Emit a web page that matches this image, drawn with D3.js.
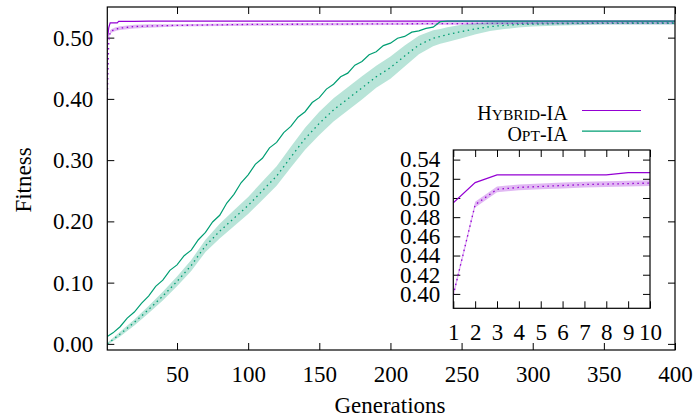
<!DOCTYPE html>
<html>
<head>
<meta charset="utf-8">
<script src="https://cdn.jsdelivr.net/npm/d3@7"></script>
<style>
  body { margin: 0; background: #fff; }
</style>
</head>
<body>
<svg class="displayContext" width="694" height="419"></svg>
<script>
// Hybrid-IA: generation, best fitness, mean fitness, spread of the mean
var hybridGen    = [1, 2, 3, 4, 5, 6, 7, 8, 9, 10, 20, 30, 50, 100, 150, 200, 250, 300, 350, 400];
var hybridBest   = [0.495, 0.516, 0.524, 0.524, 0.524, 0.524, 0.524, 0.524, 0.5265, 0.5265,
                    0.5265, 0.527, 0.527, 0.527, 0.527, 0.527, 0.527, 0.527, 0.527, 0.527];
var hybridMean   = [0.399, 0.493, 0.509, 0.511, 0.512, 0.513, 0.514, 0.5145, 0.515, 0.5155,
                    0.518, 0.519, 0.520, 0.5215, 0.522, 0.5225, 0.523, 0.5235, 0.524, 0.524];
var hybridSpread = [0.003, 0.003, 0.003, 0.003, 0.003, 0.003, 0.003, 0.003, 0.003, 0.003,
                    0.003, 0.003, 0.002, 0.002, 0.002, 0.002, 0.002, 0.002, 0.002, 0.002];

// Opt-IA best fitness (read every 5 generations, it climbs in small steps)
var optBestGen = [1, 5, 10, 15, 20, 25, 30, 35, 40, 45, 50, 55, 60, 65, 70, 75, 80, 85, 90, 95,
                  100, 105, 110, 115, 120, 125, 130, 135, 140, 145, 150, 155, 160, 165, 170, 175,
                  180, 185, 190, 195, 200, 205, 210, 215, 220, 225, 230, 235, 240, 300, 400];
var optBest    = [0.012, 0.018, 0.028, 0.042, 0.052, 0.066, 0.078, 0.094, 0.104, 0.120,
                  0.129, 0.144, 0.153, 0.170, 0.182, 0.199, 0.210, 0.230, 0.244, 0.263,
                  0.276, 0.293, 0.303, 0.320, 0.329, 0.345, 0.355, 0.370, 0.379, 0.394,
                  0.402, 0.416, 0.424, 0.436, 0.442, 0.455, 0.461, 0.472, 0.477, 0.487,
                  0.491, 0.499, 0.502, 0.509, 0.511, 0.515, 0.517, 0.526, 0.527, 0.527, 0.527];

// Opt-IA mean fitness and its spread
var optGen    = [1, 10, 20, 30, 40, 50, 60, 70, 80, 90, 100, 110, 120, 130, 140, 150, 160, 170, 180, 190,
                 200, 210, 220, 230, 235, 240, 250, 260, 270, 280, 290, 300, 320, 350, 400];
var optMean   = [0.000, 0.016, 0.035, 0.056, 0.078, 0.102, 0.128, 0.160, 0.184, 0.205,
                 0.226, 0.250, 0.274, 0.305, 0.335, 0.360, 0.382, 0.400, 0.418, 0.436,
                 0.451, 0.470, 0.488, 0.499, 0.502, 0.505, 0.510, 0.5145, 0.518, 0.520,
                 0.5215, 0.522, 0.523, 0.5234, 0.5235];
var optSpread = [0.002, 0.004, 0.005, 0.006, 0.007, 0.008, 0.009, 0.010, 0.012, 0.013,
                 0.014, 0.015, 0.016, 0.017, 0.018, 0.019, 0.019, 0.019, 0.019, 0.018,
                 0.018, 0.017, 0.015, 0.013, 0.012, 0.012, 0.011, 0.009, 0.007, 0.006,
                 0.005, 0.004, 0.003, 0.002, 0.002];

var xTicks      = [50, 100, 150, 200, 250, 300, 350, 400];
var yTicks      = [0.00, 0.10, 0.20, 0.30, 0.40, 0.50];
var insetXTicks = [1, 2, 3, 4, 5, 6, 7, 8, 9, 10];
var insetYTicks = [0.40, 0.42, 0.44, 0.46, 0.48, 0.50, 0.52, 0.54];

var purple = "#9400d3";
var green  = "#009e73";
var serif  = "'Liberation Serif', 'DejaVu Serif', serif";

function meanRows(gen, mean, spread) {
  return gen.map(function(g, i) {
    return { g: g, v: mean[i], lo: mean[i] - spread[i], hi: mean[i] + spread[i] };
  });
}
function bestRows(gen, best) {
  return gen.map(function(g, i) { return { g: g, v: best[i] }; });
}

var hybrid = { best: bestRows(hybridGen, hybridBest), mean: meanRows(hybridGen, hybridMean, hybridSpread) };
var opt    = { best: bestRows(optBestGen, optBest),   mean: meanRows(optGen, optMean, optSpread) };

var svg = d3.select(".displayContext").style("font-family", serif);

function drawSeries(g, s, sx, sy, colour, maxGen) {
  var keep = function(d) { return d.g <= maxGen; };
  var best = s.best.filter(keep), mean = s.mean.filter(keep);

  var band = d3.area()
    .x(function(d) { return sx(d.g); })
    .y0(function(d) { return sy(d.lo); })
    .y1(function(d) { return sy(d.hi); });
  g.append("path").attr("d", band(mean))
    .attr("fill", colour).attr("fill-opacity", 0.28).attr("stroke", "none");

  var line = d3.line().x(function(d) { return sx(d.g); }).y(function(d) { return sy(d.v); });
  g.append("path").attr("d", line(best))
    .attr("fill", "none").attr("stroke", colour).attr("stroke-width", 1.2);

  g.append("path").attr("d", line(mean))
    .attr("fill", "none").attr("stroke", colour).attr("stroke-width", 1.3)
    .attr("stroke-dasharray", "1.5,3.5");
}

function drawFrame(sx, sy, xt, yt, xPad, yPad, clipId, fs) {
  var x0 = sx.range()[0], x1 = sx.range()[1];
  var y0 = sy.range()[0], y1 = sy.range()[1];

  svg.append("defs").append("clipPath").attr("id", clipId)
    .append("rect").attr("x", x0).attr("y", y1).attr("width", x1 - x0).attr("height", y0 - y1);

  var bottom = svg.append("g").attr("transform", "translate(0," + y0 + ")")
    .call(d3.axisBottom(sx).tickValues(xt).tickSize(-7).tickPadding(xPad).tickFormat(d3.format("d")));
  var top = svg.append("g").attr("transform", "translate(0," + y1 + ")")
    .call(d3.axisTop(sx).tickValues(xt).tickSize(-7).tickFormat(""));
  var left = svg.append("g").attr("transform", "translate(" + x0 + ",0)")
    .call(d3.axisLeft(sy).tickValues(yt).tickSize(-7).tickPadding(yPad).tickFormat(d3.format(".2f")));
  var right = svg.append("g").attr("transform", "translate(" + x1 + ",0)")
    .call(d3.axisRight(sy).tickValues(yt).tickSize(-7).tickFormat(""));

  [bottom, top, left, right].forEach(function(a) {
    a.attr("font-family", null).style("font-family", serif).attr("font-size", fs);
    a.select(".domain").remove();
    a.selectAll("line").attr("stroke", "#000");
    a.selectAll("text").style("font-family", serif).attr("font-size", fs).attr("fill", "#000");
  });
}

// main plot
var x = d3.scaleLinear().domain([1, 400]).range([107.3, 675]);
var y = d3.scaleLinear().domain([-0.01, 0.55]).range([350, 7]);

drawFrame(x, y, xTicks, yTicks, 15.5, 14, "clipMain", 23);

var main = svg.append("g").attr("clip-path", "url(#clipMain)");
drawSeries(main, hybrid, x, y, purple, 400);
drawSeries(main, opt, x, y, green, 400);

svg.append("rect").attr("x", 107.3).attr("y", 7).attr("width", 675 - 107.3).attr("height", 343)
  .attr("fill", "none").attr("stroke", "#000").attr("stroke-width", 1.2);

// axis titles
svg.append("text").attr("x", 390).attr("y", 413).attr("text-anchor", "middle")
  .style("font-family", serif).attr("font-size", 23).text("Generations");
svg.append("text").attr("transform", "translate(31,180) rotate(-90)").attr("text-anchor", "middle")
  .style("font-family", serif).attr("font-size", 23).text("Fitness");

// legend
var legend = [
  { big: "H", small: "YBRID", tail: "-IA", colour: purple },
  { big: "O", small: "PT",    tail: "-IA", colour: green }
];
legend.forEach(function(d, i) {
  var by = 120 + i * 20.7;
  var t = svg.append("text").attr("x", 567.7).attr("y", by).attr("text-anchor", "end")
    .style("font-family", serif).attr("font-size", 20);
  t.append("tspan").text(d.big);
  t.append("tspan").attr("font-size", 15.5).text(d.small);
  t.append("tspan").text(d.tail);
  svg.append("line").attr("x1", 582).attr("x2", 641).attr("y1", by - 9.5).attr("y2", by - 9.5)
    .attr("stroke", d.colour).attr("stroke-width", 1.2);
});

// inset: first ten generations
var ix = d3.scaleLinear().domain([1, 10]).range([453.3, 650]);
var iy = d3.scaleLinear().domain([0.385, 0.55]).range([308.3, 150]);

svg.append("rect").attr("x", 453.3).attr("y", 150).attr("width", 650 - 453.3).attr("height", 158.3)
  .attr("fill", "#fff");
drawFrame(ix, iy, insetXTicks, insetYTicks, 15.5, 13, "clipInset", 23);

var inset = svg.append("g").attr("clip-path", "url(#clipInset)");
drawSeries(inset, hybrid, ix, iy, purple, 10);
drawSeries(inset, opt, ix, iy, green, 10);

svg.append("rect").attr("x", 453.3).attr("y", 150).attr("width", 650 - 453.3).attr("height", 158.3)
  .attr("fill", "none").attr("stroke", "#000").attr("stroke-width", 1.2);
</script>
</body>
</html>
